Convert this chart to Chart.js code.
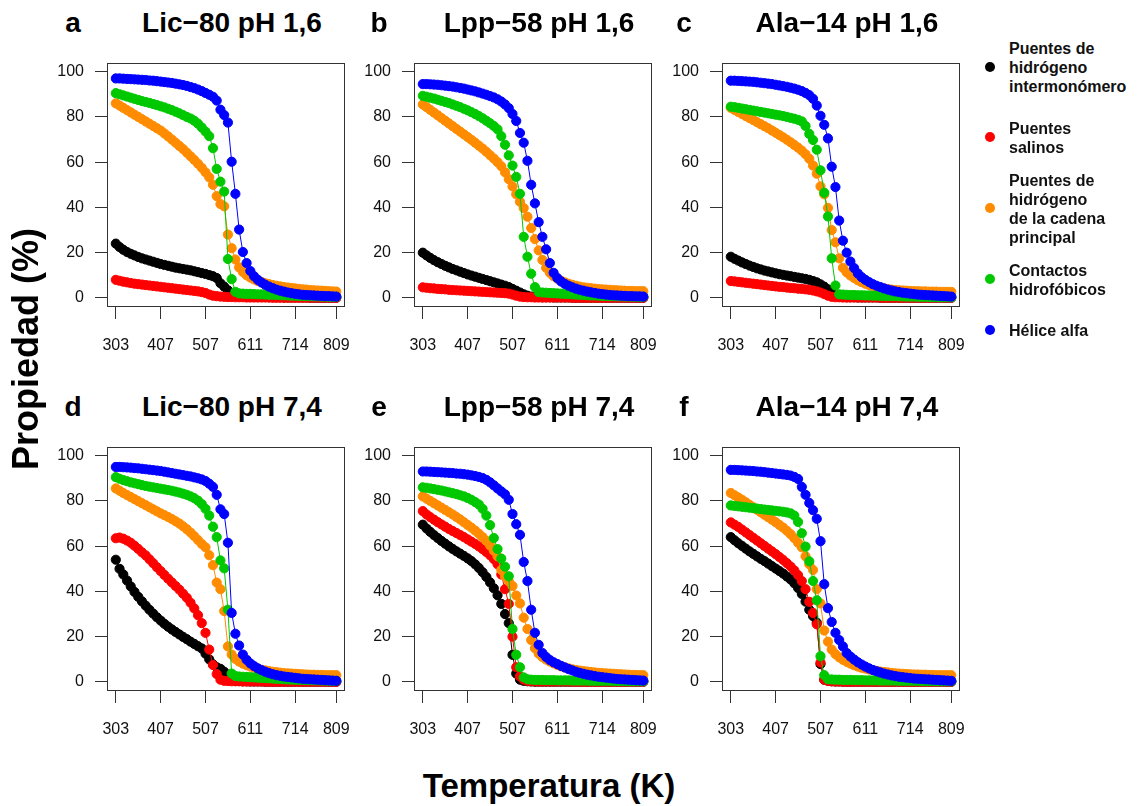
<!DOCTYPE html>
<html>
<head>
<meta charset="utf-8">
<script src="https://cdn.jsdelivr.net/npm/chart.js@4.4.1/dist/chart.umd.min.js"></script>
<style>
  html, body { margin: 0; padding: 0; background: #fff; }
  body { width: 1139px; height: 806px; position: relative; overflow: hidden;
         font-family: "Liberation Sans", Arial, Helvetica, sans-serif; color: #000; }
  canvas.panel { position: absolute; }
  .title { position: absolute; font-weight: bold; font-size: 28px; line-height: 28px;
           white-space: nowrap; text-align: center; }
  .letter { position: absolute; font-weight: bold; font-size: 28px; line-height: 28px;
            width: 30px; text-align: center; }
  .ytitle { position: absolute; font-weight: bold; font-size: 36px; line-height: 36px; width: 320px;
            height: 36px; text-align: center; transform: rotate(-90deg); white-space: nowrap; }
  .xtitle { position: absolute; font-weight: bold; font-size: 33px; line-height: 33px; width: 400px;
            text-align: center; white-space: nowrap; }
  .leg-text { position: absolute; left: 1009px; font-weight: bold; font-size: 16px; line-height: 19px;
              white-space: nowrap; color: #111; }
  .leg-dot { position: absolute; width: 10px; height: 10px; border-radius: 50%; }
</style>
</head>
<body>
<script>
// ---------------- data ----------------
const TEMP_LABELS = ['303', '407', '507', '611', '714', '809'];
const TICK_INDEX = [0, 12, 24, 36, 48, 59];
const Y_TICKS = [0, 20, 40, 60, 80, 100];

const SERIES_NAMES = [
  ['Puentes de', 'hidrógeno', 'intermonómero'],
  ['Puentes', 'salinos'],
  ['Puentes de', 'hidrógeno', 'de la cadena', 'principal'],
  ['Contactos', 'hidrofóbicos'],
  ['Hélice alfa']
];
const SERIES_COLORS = ['#000000', '#ff0000', '#ff8c00', '#00c800', '#0000ff'];

const PANEL_TITLES = ['Lic−80 pH 1,6', 'Lpp−58 pH 1,6', 'Ala−14 pH 1,6',
                      'Lic−80 pH 7,4', 'Lpp−58 pH 7,4', 'Ala−14 pH 7,4'];
const PANEL_LETTERS = ['a', 'b', 'c', 'd', 'e', 'f'];

// Panel a : Lic-80 pH 1,6
const blackA = [24,22.5,21.3,20.3,19.5,18.8,18.1,17.5,17,16.5,
  16,15.5,15,14.6,14.2,13.8,13.4,13.1,12.8,12.5,
  12.2,11.8,11.4,11,10.6,10.1,9.6,8.8,6.5,5,
  3.4,1.5,1,0.8,0.7,0.6,0.5,0.5,0.4,0.4,
  0.4,0.3,0.3,0.3,0.3,0.2,0.2,0.2,0.2,0.2,
  0.2,0.2,0.1,0.1,0.1,0.1,0.1,0.1,0.1,0.1];
const redA = [8,7.6,7.2,6.9,6.6,6.3,6.1,5.9,5.7,5.5,
  5.3,5.1,4.9,4.7,4.5,4.3,4.1,3.9,3.7,3.5,
  3.3,3.1,2.9,2.6,2.2,1.5,1,0.8,0.6,0.5,
  0.4,0.4,0.3,0.3,0.3,0.2,0.2,0.2,0.2,0.2,
  0.2,0.2,0.1,0.1,0.1,0.1,0.1,0.1,0.1,0.1,
  0.1,0.1,0.1,0.1,0.1,0.1,0.1,0.1,0.1,0.1];
const orangeA = [86,85,84,83,82,81,80,79,78,77,
  76,75,74,72.7,71.4,70,68.6,67.2,65.8,64.2,
  62.6,61,59.3,57.5,55.5,53.3,50,45,41.5,40.5,
  28,22,17,13.5,11.5,10,9,8.2,7.5,7,
  6.5,6.1,5.7,5.4,5.1,4.8,4.6,4.4,4.2,4,
  3.8,3.7,3.5,3.4,3.3,3.2,3.1,3,2.9,2.8];
const greenA = [90.5,90,89.5,89,88.5,88,87.5,87,86.6,86.2,
  85.7,85.2,84.7,84.2,83.6,83,82.3,81.6,80.8,80,
  79.3,78.3,77,75.3,73.5,71.5,66.2,57,51.4,47,
  17.2,8.3,2.7,2,1.9,1.8,1.8,1.7,1.6,1.6,
  1.5,1.4,1.4,1.3,1.2,1.2,1.1,1,1,0.9,
  0.9,0.8,0.8,0.7,0.7,0.6,0.6,0.5,0.5,0.5];
const blueA = [97,97,96.9,96.8,96.7,96.6,96.5,96.4,96.3,96.1,
  96,95.8,95.6,95.4,95.2,95,94.7,94.4,94.1,93.7,
  93.2,92.7,92.1,91.4,90.6,89.8,88.9,87.2,83.2,80.8,
  77.5,60.2,46,30.2,20.3,15.4,11.9,9.6,8,6.8,
  5.8,5,4.3,3.7,3.2,2.8,2.4,2.1,1.8,1.6,
  1.4,1.3,1.2,1.1,1,0.9,0.8,0.8,0.7,0.6];

// Panel b : Lpp-58 pH 1,6
const blackB = [20,18.8,17.7,16.7,15.8,15,14.2,13.5,12.8,12.2,
  11.6,11,10.4,9.9,9.4,8.9,8.4,7.9,7.4,6.9,
  6.4,5.9,5.4,4.8,4,3.2,2.4,1.6,1,0.6,
  0.4,0.4,0.3,0.3,0.3,0.2,0.2,0.2,0.2,0.2,
  0.1,0.1,0.1,0.1,0.1,0.1,0.1,0.1,0.1,0.1,
  0.1,0.1,0.1,0.1,0.1,0.1,0.1,0.1,0.1,0.1];
const redB = [4.7,4.5,4.3,4.2,4,3.9,3.8,3.6,3.5,3.4,
  3.3,3.2,3.1,3,2.9,2.8,2.7,2.6,2.5,2.4,
  2.3,2.2,2.1,1.9,1.5,1,0.6,0.4,0.3,0.3,
  0.2,0.2,0.2,0.2,0.2,0.2,0.2,0.2,0.2,0.2,
  0.1,0.1,0.1,0.1,0.1,0.1,0.1,0.1,0.1,0.1,
  0.1,0.1,0.1,0.1,0.1,0.1,0.1,0.1,0.1,0.1];
const orangeB = [85.5,84.3,83.1,81.9,80.7,79.5,78.3,77.1,75.9,74.7,
  73.5,72.3,71.1,69.9,68.6,67.3,66,64.6,63.1,61.6,
  60,58.2,55.5,52.5,49.3,45.8,42.5,39.7,35.9,30.9,
  26,21,16.8,13.3,11.1,9.6,8.5,7.6,6.9,6.3,
  5.8,5.4,5,4.7,4.5,4.3,4.1,3.9,3.8,3.7,
  3.6,3.5,3.4,3.3,3.2,3.1,3.1,3,3,3];
const greenB = [89.3,88.9,88.5,88.1,87.6,87.1,86.6,86.1,85.5,84.9,
  84.3,83.6,82.9,82.1,81.3,80.4,79.4,78.3,77.2,76,
  74.5,71.5,67.7,63,58.5,53.5,46,27,18.2,10.7,
  4.8,2.6,2.4,2.3,2.2,2.1,2,1.9,1.8,1.7,
  1.6,1.5,1.4,1.3,1.2,1.1,1.1,1,0.9,0.9,
  0.8,0.8,0.7,0.7,0.6,0.6,0.6,0.5,0.5,0.5];
const blueB = [94.5,94.5,94.4,94.3,94.2,94,93.8,93.6,93.4,93.1,
  92.8,92.5,92.1,91.7,91.3,90.8,90.3,89.8,89.2,88.6,
  87.8,86.8,85.5,83.9,81.3,78.2,72.9,68.6,60.6,50,
  41.8,33.5,27,21.5,15.4,11.1,8.8,7.3,6.2,5.4,
  4.7,4.1,3.6,3.2,2.8,2.5,2.2,1.9,1.7,1.5,
  1.3,1.2,1.1,1,0.9,0.8,0.8,0.7,0.7,0.6];

// Panel c : Ala-14 pH 1,6
const blackC = [18.2,17.3,16.5,15.7,15,14.3,13.7,13.1,12.6,12.1,
  11.7,11.3,10.9,10.5,10.2,9.9,9.6,9.3,9,8.7,
  8.4,8,7.5,6.9,6,5,3.8,2.2,1,0.6,
  0.4,0.3,0.3,0.3,0.2,0.2,0.2,0.2,0.2,0.2,
  0.1,0.1,0.1,0.1,0.1,0.1,0.1,0.1,0.1,0.1,
  0.1,0.1,0.1,0.1,0.1,0.1,0.1,0.1,0.1,0.1];
const redC = [7.5,7.3,7.1,6.9,6.7,6.5,6.3,6.1,5.9,5.7,
  5.5,5.3,5.1,4.9,4.8,4.6,4.4,4.3,4.1,4,
  3.8,3.6,3.3,2.9,2.4,1.7,1,0.5,0.3,0.3,
  0.2,0.2,0.2,0.2,0.2,0.2,0.2,0.2,0.2,0.2,
  0.1,0.1,0.1,0.1,0.1,0.1,0.1,0.1,0.1,0.1,
  0.1,0.1,0.1,0.1,0.1,0.1,0.1,0.1,0.1,0.1];
const orangeC = [84,83.1,82.2,81.3,80.4,79.5,78.6,77.7,76.8,75.9,
  75,74,73,72,71,69.9,68.8,67.6,66.4,65.1,
  63.5,61.5,58.5,54.9,49.3,45.8,39.8,30,24.6,17.5,
  13.3,11.3,9.9,8.8,7.8,7,6.3,5.7,5.2,4.8,
  4.5,4.2,3.9,3.7,3.5,3.4,3.3,3.2,3.1,3,
  3,2.9,2.9,2.8,2.8,2.8,2.7,2.7,2.7,2.7];
const greenC = [84.5,84.3,84,83.7,83.4,83.1,82.8,82.5,82.2,81.9,
  81.6,81.3,81,80.7,80.4,80,79.6,79.2,78.7,78,
  76,72.5,69.8,65.5,56.4,46.5,36,17.5,5.5,1.6,
  1.5,1.4,1.3,1.3,1.2,1.2,1.1,1.1,1,1,
  0.9,0.9,0.8,0.8,0.8,0.7,0.7,0.6,0.6,0.6,
  0.5,0.5,0.5,0.4,0.4,0.4,0.3,0.3,0.3,0.3];
const blueC = [96,96,95.9,95.8,95.7,95.6,95.5,95.3,95.1,94.9,
  94.7,94.5,94.2,93.9,93.6,93.3,92.9,92.5,92,91.4,
  90.6,89.6,88,85,80.5,76.5,70.5,58,49,34.2,
  25.3,20,16.1,13.2,10.8,9.2,8,7,6.1,5.4,
  4.8,4.2,3.7,3.3,2.9,2.6,2.3,2.1,1.9,1.7,
  1.5,1.4,1.3,1.2,1.1,1,0.9,0.8,0.7,0.6];

// Panel d : Lic-80 pH 7,4
const blackD = [54,50,47.5,44.8,42.2,39.8,37.6,35.6,33.7,31.9,
  30.2,28.6,27.1,25.7,24.4,23.2,22.1,21,19.9,18.9,
  17.8,16.8,15.8,14.8,12.5,10,7.8,6.5,5.8,4.5,
  2,0.8,0.5,0.4,0.3,0.3,0.2,0.2,0.2,0.2,
  0.1,0.1,0.1,0.1,0.1,0.1,0.1,0.1,0.1,0.1,
  0.1,0.1,0.1,0.1,0.1,0.1,0.1,0.1,0.1,0.1];
const redD = [63.5,63.8,63.3,62.5,61.5,60.2,58.8,57.3,55.9,54.2,
  52.5,50.7,49,47.3,45.6,44,42.4,40.8,39,37.2,
  35,32.5,29.5,26,21.7,14.3,7.5,3.5,1,0.5,
  0.4,0.3,0.3,0.3,0.2,0.2,0.2,0.2,0.2,0.2,
  0.1,0.1,0.1,0.1,0.1,0.1,0.1,0.1,0.1,0.1,
  0.1,0.1,0.1,0.1,0.1,0.1,0.1,0.1,0.1,0.1];
const orangeD = [85.5,84.5,83.5,82.6,81.7,80.8,79.9,79,78.1,77.2,
  76.3,75.4,74.5,73.7,72.9,72,71,70,68.8,67.5,
  66,64.4,62.7,61,59.5,56,51.6,43.9,41,31.3,
  15.7,12.1,10.2,9,8.1,7.4,6.8,6.3,5.8,5.4,
  5.1,4.8,4.5,4.3,4.1,3.9,3.8,3.7,3.6,3.5,
  3.4,3.3,3.2,3.2,3.1,3.1,3,3,3,3];
const greenD = [90.5,89.8,89.2,88.7,88.2,87.8,87.4,87,86.6,86.3,
  86,85.7,85.4,85.1,84.8,84.5,84.1,83.7,83.2,82.7,
  82,81.2,80.1,78.6,76.5,73.5,68.6,64,53.7,50.2,
  31.9,3.7,2.6,2.4,2.3,2.2,2.1,2,1.9,1.8,
  1.7,1.6,1.5,1.4,1.3,1.2,1.1,1,1,0.9,
  0.9,0.8,0.8,0.7,0.7,0.6,0.6,0.5,0.5,0.5];
const blueD = [95,95,94.9,94.8,94.7,94.5,94.4,94.2,94,93.8,
  93.6,93.4,93.2,92.9,92.6,92.3,92,91.7,91.4,91.1,
  90.8,90.4,90,89.5,88.8,87.6,86.2,82.7,76.3,74.2,
  61.5,30.5,21.3,16.1,12.1,9.8,8.2,7,6,5.2,
  4.5,3.9,3.4,3,2.7,2.4,2.2,2,1.8,1.6,
  1.4,1.3,1.2,1.1,1,0.9,0.8,0.7,0.6,0.5];

// Panel e : Lpp-58 pH 7,4
const blackE = [69.5,67.8,66.3,64.9,63.6,62.3,61.1,59.9,58.8,57.7,
  56.7,55.7,54.6,53.4,52,50.4,48.5,46.4,44,41.4,
  38.3,34.5,30,26,12,3.7,1,0.5,0.3,0.2,
  0.1,0.1,0.1,0.1,0.1,0.1,0.1,0.1,0.1,0.1,
  0.1,0.1,0.1,0.1,0.1,0.1,0.1,0.1,0.1,0.1,
  0.1,0.1,0.1,0.1,0.1,0.1,0.1,0.1,0.1,0.1];
const redE = [75.5,74,72.8,71.7,70.6,69.6,68.6,67.6,66.7,65.8,
  64.9,64,63,62,61,59.9,58.7,57.4,56,54.3,
  52,47.5,41,34.5,20,6.5,2.5,1,0.5,0.3,
  0.3,0.2,0.2,0.2,0.2,0.2,0.2,0.2,0.2,0.2,
  0.1,0.1,0.1,0.1,0.1,0.1,0.1,0.1,0.1,0.1,
  0.1,0.1,0.1,0.1,0.1,0.1,0.1,0.1,0.1,0.1];
const orangeE = [82,81,80,79,78,77,76,75,74,72.9,
  71.8,70.6,69.4,68.2,66.9,65.5,64,62.3,60.3,58,
  55.5,49.5,46.7,44.5,42.4,38.2,34.7,28.4,23.4,18.5,
  14.9,12.5,11,9.9,9,8.2,7.5,6.9,6.4,6,
  5.6,5.3,5,4.8,4.6,4.4,4.2,4,3.9,3.8,
  3.7,3.6,3.5,3.4,3.3,3.2,3.1,3.1,3,3];
const greenE = [86,85.8,85.5,85.2,84.9,84.6,84.2,83.8,83.4,83,
  82.5,82,81.3,80.5,79.5,78.4,76.5,73.5,69.3,63.6,
  58.7,54.5,50.9,46.7,23.4,12,6.5,2,1.2,1,
  0.9,0.9,0.9,0.8,0.8,0.8,0.7,0.7,0.7,0.7,
  0.6,0.6,0.6,0.6,0.6,0.5,0.5,0.5,0.5,0.5,
  0.5,0.4,0.4,0.4,0.4,0.3,0.3,0.3,0.3,0.3];
const blueE = [93,93,92.9,92.8,92.7,92.6,92.5,92.4,92.3,92.1,
  92,91.8,91.6,91.3,91,90.6,90.1,89.3,88.2,86.9,
  85.5,84.2,82.9,80.5,74.2,69.7,65,53,44.6,31.9,
  21.7,16.4,12.8,11,9.7,8.7,7.9,7.1,6.4,5.7,
  5.1,4.5,4,3.6,3.2,2.9,2.6,2.3,2.1,1.9,
  1.7,1.5,1.3,1.2,1.1,1,0.9,0.8,0.7,0.6];

// Panel f : Ala-14 pH 7,4
const blackF = [64,62.6,61.3,60.1,58.9,57.7,56.6,55.5,54.4,53.4,
  52.3,51.2,50.1,49,47.9,46.6,45.3,43.6,41.5,38.9,
  35.5,31.9,29.1,26.2,7.9,1,0.5,0.3,0.2,0.2,
  0.1,0.1,0.1,0.1,0.1,0.1,0.1,0.1,0.1,0.1,
  0.1,0.1,0.1,0.1,0.1,0.1,0.1,0.1,0.1,0.1,
  0.1,0.1,0.1,0.1,0.1,0.1,0.1,0.1,0.1,0.1];
const redF = [70.5,69.5,68.5,67.3,66.1,64.9,63.7,62.5,61.3,60.1,
  58.9,57.7,56.5,55.2,53.9,52.5,51,49.3,47.2,44.6,
  41,35.4,30.5,25.5,8.6,1,0.5,0.3,0.2,0.2,
  0.1,0.1,0.1,0.1,0.1,0.1,0.1,0.1,0.1,0.1,
  0.1,0.1,0.1,0.1,0.1,0.1,0.1,0.1,0.1,0.1,
  0.1,0.1,0.1,0.1,0.1,0.1,0.1,0.1,0.1,0.1];
const orangeF = [83.5,82.5,81.5,80.5,79.4,78.3,77.2,76.1,75,73.9,
  72.8,71.7,70.6,69.4,68.2,66.8,65.3,63.5,61.5,59.5,
  55.5,52,49.5,41,34.7,22.7,17.8,14.3,12.3,10.9,
  9.8,8.9,8.1,7.4,6.8,6.3,5.9,5.5,5.2,4.9,
  4.6,4.4,4.2,4,3.8,3.7,3.6,3.5,3.4,3.3,
  3.3,3.2,3.2,3.1,3.1,3,3,3,3,3];
const greenF = [78,77.8,77.6,77.4,77.2,77,76.8,76.6,76.4,76.2,
  76,75.8,75.6,75.4,75.2,74.9,74.5,73.5,70.7,65.7,
  59.8,53.3,44.6,36.1,11.4,3,1.2,1.1,1,1,
  0.9,0.9,0.9,0.8,0.8,0.8,0.7,0.7,0.7,0.7,
  0.6,0.6,0.6,0.6,0.6,0.5,0.5,0.5,0.5,0.5,
  0.5,0.4,0.4,0.4,0.4,0.3,0.3,0.3,0.3,0.3];
const blueF = [93.7,93.7,93.6,93.5,93.4,93.3,93.2,93,92.9,92.7,
  92.5,92.3,92.1,91.9,91.7,91.5,91.2,90.6,89.7,86.2,
  82.7,79.1,75.9,72.1,62.2,43.2,32.6,26.5,21.7,18.5,
  15.7,12.8,11.2,9.9,8.7,7.7,6.8,6,5.3,4.7,
  4.2,3.7,3.3,2.9,2.6,2.3,2.1,1.9,1.7,1.5,
  1.4,1.3,1.2,1.1,1,0.9,0.8,0.7,0.6,0.5];

const PANEL_SERIES = [
  [blackA, redA, orangeA, greenA, blueA],
  [blackB, redB, orangeB, greenB, blueB],
  [blackC, redC, orangeC, greenC, blueC],
  [blackD, redD, orangeD, greenD, blueD],
  [blackE, redE, orangeE, greenE, blueE],
  [blackF, redF, orangeF, greenF, blueF]
];

// ---------------- layout ----------------
const BOX_LEFT = [107, 414, 722];
const BOX_TOP = [52, 436];
const BOX_W = 250, BOX_H = 255;
const AXIS_W = 70, AXIS_H = 50, PAD = 10;
const FONT = '"Liberation Sans", Arial, Helvetica, sans-serif';

Chart.defaults.font.family = FONT;

const boxPlugin = {
  id: 'rbox',
  afterDraw(chart) {
    const a = chart.chartArea, ctx = chart.ctx;
    ctx.save();
    ctx.strokeStyle = '#333';
    ctx.lineWidth = 1;
    ctx.strokeRect(Math.round(a.left) + 0.5, Math.round(a.top) + 0.5,
                   Math.round(a.right - a.left) - 1, Math.round(a.bottom - a.top) - 1);
    ctx.restore();
  }
};

function addDiv(cls, text, style) {
  const d = document.createElement('div');
  d.className = cls;
  d.textContent = text;
  Object.assign(d.style, style);
  document.body.appendChild(d);
  return d;
}

PANEL_SERIES.forEach((series, p) => {
  const col = p % 3, row = Math.floor(p / 3);
  const left = BOX_LEFT[col], top = BOX_TOP[row];

  const cv = document.createElement('canvas');
  cv.className = 'panel';
  const cw = AXIS_W + BOX_W + PAD, ch = PAD + BOX_H + AXIS_H;
  cv.width = cw; cv.height = ch;
  cv.style.width = cw + 'px'; cv.style.height = ch + 'px';
  cv.style.left = (left - AXIS_W) + 'px';
  cv.style.top = (top - PAD) + 'px';
  document.body.appendChild(cv);

  const datasets = series.map((vals, s) => ({
    label: SERIES_NAMES[s].join(' '),
    data: vals.map((v, i) => ({ x: i, y: v })),
    showLine: true,
    borderColor: SERIES_COLORS[s],
    borderWidth: 1,
    backgroundColor: SERIES_COLORS[s],
    pointBackgroundColor: SERIES_COLORS[s],
    pointBorderColor: SERIES_COLORS[s],
    pointBorderWidth: 1,
    pointRadius: 4.6,
    tension: 0,
    order: 5 - s
  }));

  new Chart(cv, {
    type: 'scatter',
    data: { datasets },
    options: {
      responsive: false,
      animation: false,
      devicePixelRatio: 1,
      layout: { padding: { top: PAD, right: PAD, left: 0, bottom: 0 } },
      plugins: { legend: { display: false }, tooltip: { enabled: false } },
      scales: {
        x: {
          type: 'linear',
          min: -2.36, max: 61.36,
          afterBuildTicks: s => { s.ticks = TICK_INDEX.map(v => ({ value: v })); },
          afterFit: s => { s.height = AXIS_H; },
          ticks: {
            autoSkip: false, maxRotation: 0, minRotation: 0,
            padding: 17, color: '#111',
            font: { size: 16, family: FONT },
            callback: v => TEMP_LABELS[TICK_INDEX.indexOf(v)]
          },
          grid: { drawOnChartArea: false, drawTicks: true, tickLength: 12, color: '#333', lineWidth: 1 },
          border: { display: false }
        },
        y: {
          min: -4, max: 104,
          afterBuildTicks: s => { s.ticks = Y_TICKS.map(v => ({ value: v })); },
          afterFit: s => { s.width = AXIS_W; },
          ticks: {
            padding: 11, color: '#111',
            font: { size: 16, family: FONT },
            callback: v => String(v)
          },
          grid: { drawOnChartArea: false, drawTicks: true, tickLength: 12, color: '#333', lineWidth: 1 },
          border: { display: false }
        }
      }
    },
    plugins: [boxPlugin]
  });

  // panel title and letter
  const baseTop = row === 0 ? 9 : 393;
  addDiv('title', PANEL_TITLES[p], { left: left + 'px', top: baseTop + 'px', width: BOX_W + 'px' });
  const letterX = [73, 379, 684][col];
  addDiv('letter', PANEL_LETTERS[p], { left: (letterX - 15) + 'px', top: baseTop + 'px' });
});

// axis titles
addDiv('ytitle', 'Propiedad (%)', { left: (26 - 160) + 'px', top: (349 - 18) + 'px' });
addDiv('xtitle', 'Temperatura (K)', { left: (549 - 200) + 'px', top: '769px' });

// legend
const LEG_TOP = [38.5, 118.5, 170.5, 260.5, 320.5];
const LEG_DOT_Y = [67, 137, 208, 279, 330];
SERIES_NAMES.forEach((lines, s) => {
  const d = document.createElement('div');
  d.className = 'leg-text';
  d.style.top = LEG_TOP[s] + 'px';
  d.innerHTML = lines.map(t => t.replace(/&/g, '&amp;')).join('<br>');
  document.body.appendChild(d);
  const dot = document.createElement('div');
  dot.className = 'leg-dot';
  dot.style.background = SERIES_COLORS[s];
  dot.style.left = (990 - 5) + 'px';
  dot.style.top = (LEG_DOT_Y[s] - 5) + 'px';
  document.body.appendChild(dot);
});
</script>
</body>
</html>
